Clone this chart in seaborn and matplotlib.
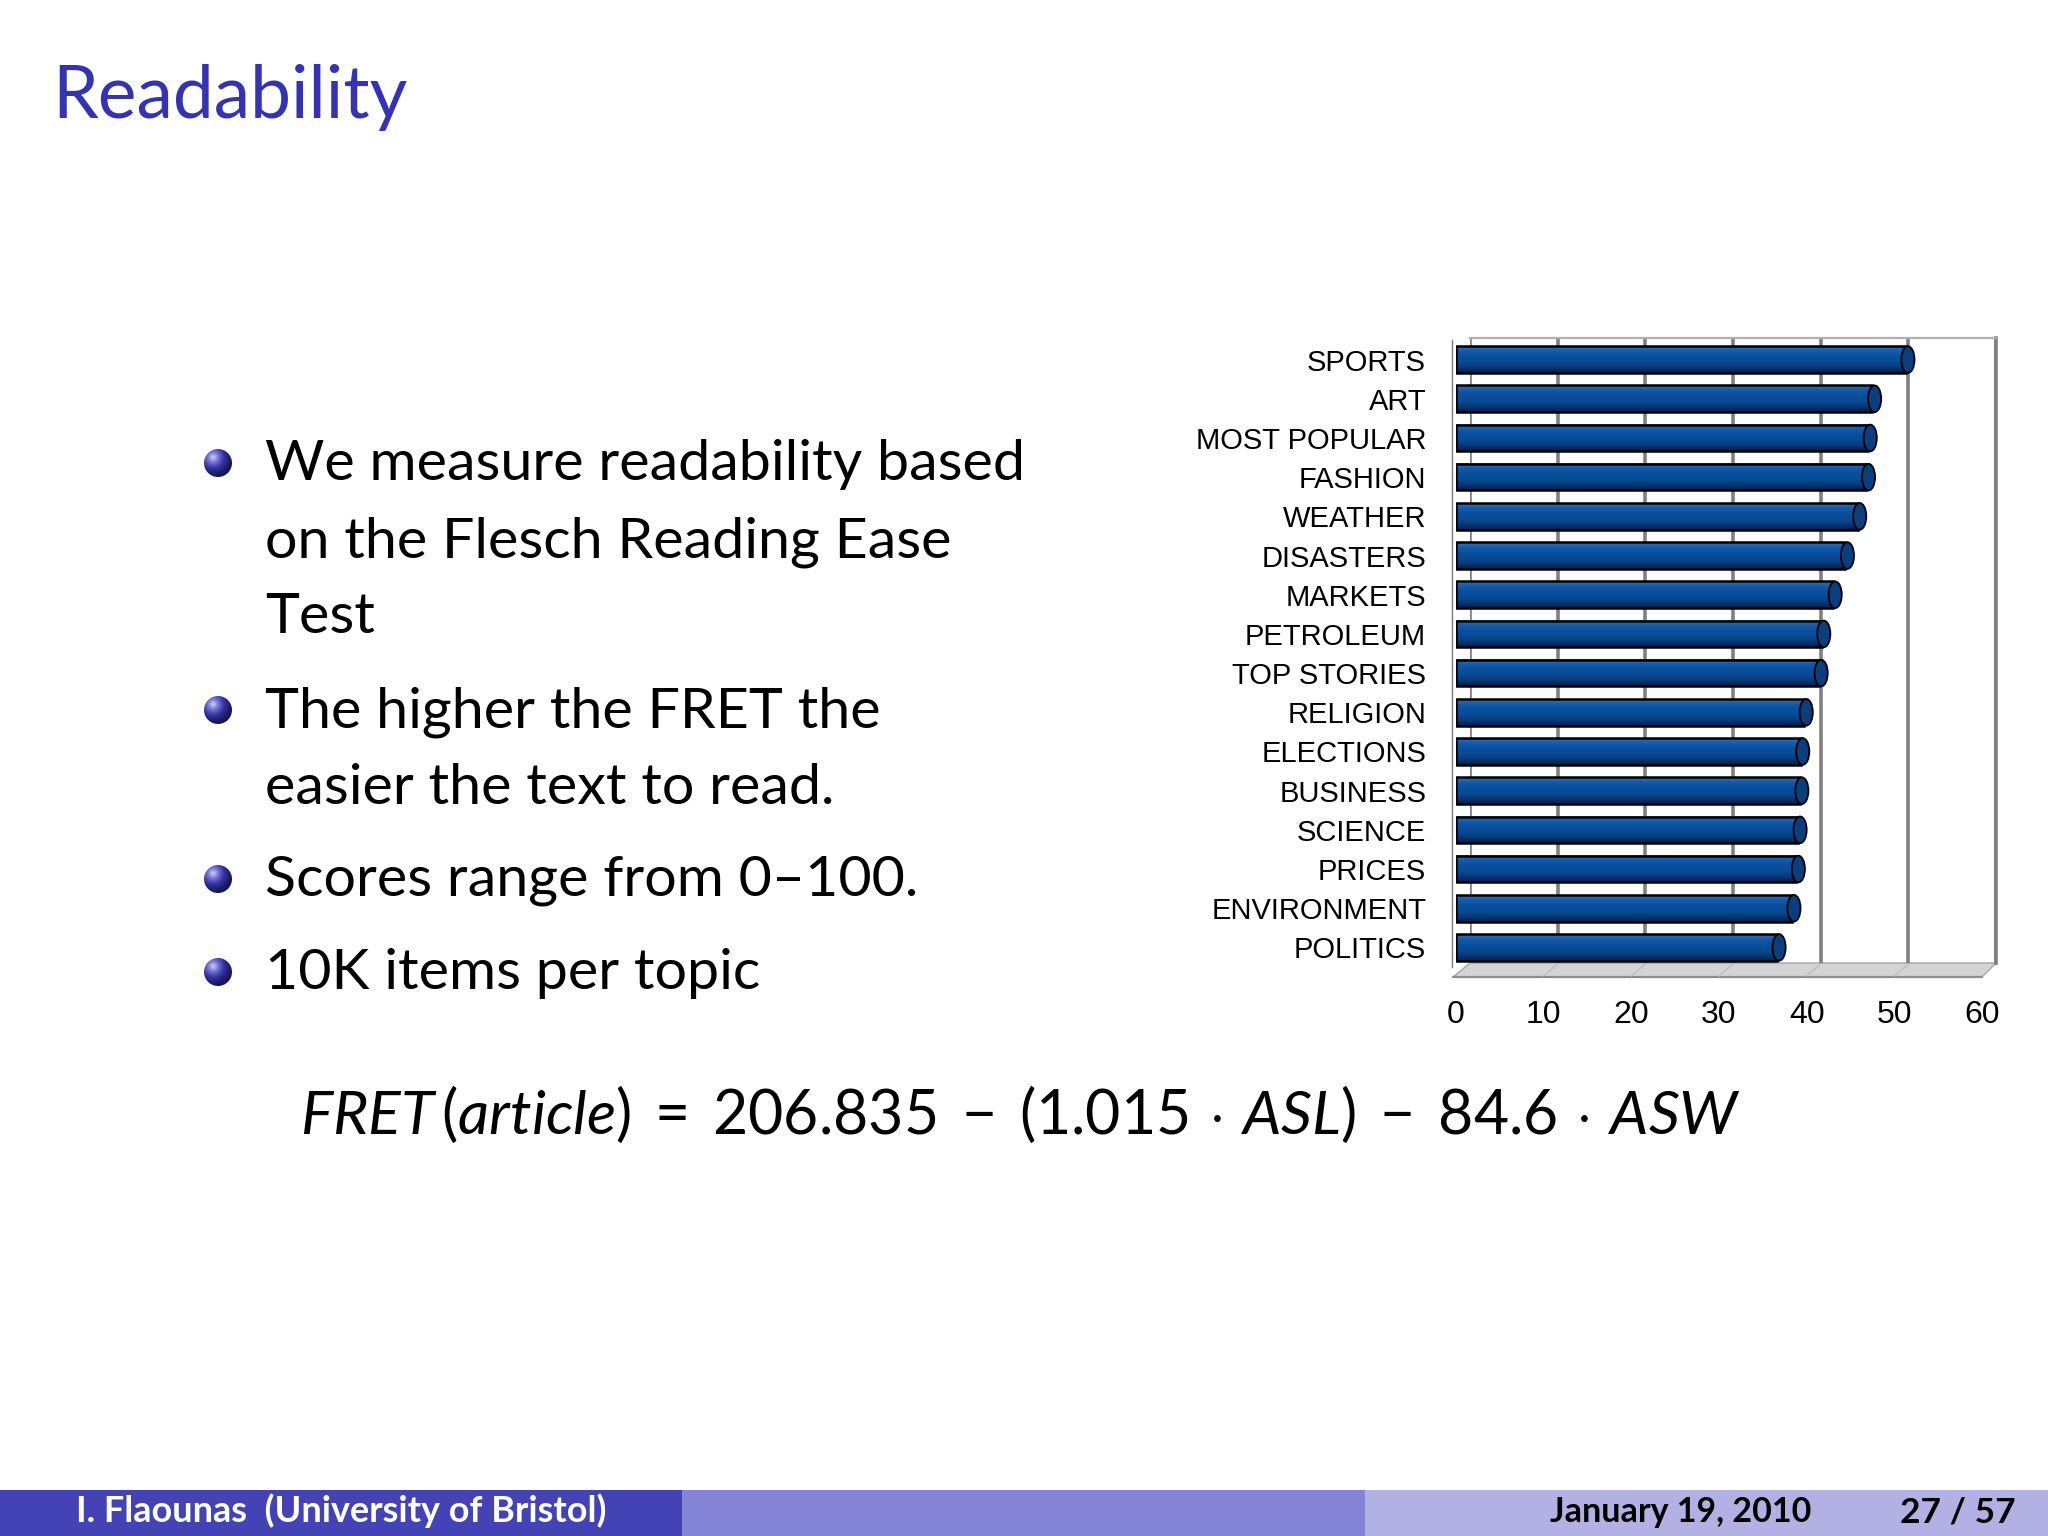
import numpy as np
import pandas as pd
import matplotlib
matplotlib.use("Agg")
import matplotlib.pyplot as plt
import seaborn as sns
from matplotlib.patches import Ellipse, Circle, Polygon, Rectangle
from matplotlib.colors import LinearSegmentedColormap

# ---------------- data ----------------
categories = ["SPORTS", "ART", "MOST POPULAR", "FASHION", "WEATHER", "DISASTERS",
              "MARKETS", "PETROLEUM", "TOP STORIES", "RELIGION", "ELECTIONS",
              "BUSINESS", "SCIENCE", "PRICES", "ENVIRONMENT", "POLITICS"]
scores = [51.3, 47.5, 47.0, 46.8, 45.8, 44.4, 43.0, 41.7, 41.4, 39.7, 39.3,
          39.2, 39.0, 38.8, 38.3, 36.6]
x_ticks = [0, 10, 20, 30, 40, 50, 60]
x_max = 60

title_text = "Readability"
bullet_items = [["We measure readability based", "on the Flesch Reading Ease", "Test"],
                ["The higher the FRET the", "easier the text to read."],
                ["Scores range from 0\u2013100."],
                ["10K items per topic"]]
formula_text = (r"$\mathit{FRET}\,(\mathit{article})\;=\;206.835\;-\;(1.015\,\cdot\,\mathit{ASL})"
                r"\;-\;84.6\,\cdot\,\mathit{ASW}$")
footer_author = "I. Flaounas  (University of Bristol)"
footer_date = "January 19, 2010"
footer_page = "27 / 57"

# ---------------- setup ----------------
W, H = 2048, 1536
SLIDE_FONT = ['Lato', 'DejaVu Sans']
sns.set_theme(style="white")
plt.rcParams['font.family'] = ['Liberation Sans', 'DejaVu Sans']
plt.rcParams['xtick.labelsize'] = 23
plt.rcParams['ytick.labelsize'] = 21
plt.rcParams['xtick.color'] = 'black'
plt.rcParams['ytick.color'] = 'black'
plt.rcParams['mathtext.fontset'] = 'custom'
plt.rcParams['mathtext.rm'] = 'Lato'
plt.rcParams['mathtext.it'] = 'Lato:italic'
plt.rcParams['mathtext.bf'] = 'Lato:bold'

fig = plt.figure(figsize=(W / 100, H / 100), dpi=100)
fig.patch.set_facecolor('white')


def rect(x0, y0, x1, y1):
    return [x0 / W, 1 - y1 / H, (x1 - x0) / W, (y1 - y0) / H]


deco = fig.add_axes([0, 0, 1, 1], zorder=0)
deco.set_xlim(0, W)
deco.set_ylim(H, 0)
deco.axis('off')

# back wall of the 3D chart
wall = fig.add_axes(rect(1470, 338, 1996, 963), zorder=1)
wall.set_xlim(0, x_max)
wall.set_ylim(0, 1)
wall.set_xticks(x_ticks)
wall.set_yticks([])
wall.tick_params(axis='x', length=0, labelbottom=False)
wall.grid(axis='x', color='#808080', linewidth=2.6)
wall.set_facecolor('none')
for s in ['left', 'bottom']:
    wall.spines[s].set_visible(False)
wall.spines['top'].set_color('#B0B0B0')
wall.spines['top'].set_linewidth(1.6)
wall.spines['right'].set_color('#808080')
wall.spines['right'].set_linewidth(2.6)

# front axes with bars
ax = fig.add_axes(rect(1456, 340, 1982, 967), zorder=2)
df = pd.DataFrame({'topic': categories, 'score': scores})
sns.barplot(data=df, x='score', y='topic', orient='h', color='#0A4F9C',
            saturation=1, width=0.68, edgecolor='black', linewidth=1.8, ax=ax)
ax.set_facecolor('none')
ax.set_xlim(0, x_max)
ax.set_xticks(x_ticks)
ax.set_xlabel('')
ax.set_ylabel('')
ax.tick_params(axis='x', length=0, pad=24, labelsize=23, labelcolor='black')
ax.tick_params(axis='y', length=0, pad=18.5, labelsize=21, labelcolor='black')
for s in ['top', 'right', 'bottom']:
    ax.spines[s].set_visible(False)
ax.spines['left'].set_color('#777777')
ax.spines['left'].set_linewidth(1.0)
ax.spines['left'].set_position(('outward', 3))

cmap_bar = LinearSegmentedColormap.from_list(
    'bar', ['#3572BC', '#1259A8', '#0A4F9C', '#094A93', '#07397A', '#031E46'])
grad = np.linspace(0, 1, 64).reshape(-1, 1)
ylim = ax.get_ylim()
for p in list(ax.patches):
    x0, y0, w, h = p.get_x(), p.get_y(), p.get_width(), p.get_height()
    ax.imshow(grad, cmap=cmap_bar, extent=(x0, x0 + w, y0 + h, y0), origin='upper',
              aspect='auto', zorder=2, clip_path=p, interpolation='bilinear')
    p.set_facecolor('none')
    p.set_zorder(3)
    ax.add_patch(Ellipse((x0 + w + 0.25, y0 + h / 2), width=1.5, height=h,
                         facecolor='#0B3E7C', edgecolor='black', linewidth=1.3, zorder=4))
ax.set_xlim(0, x_max)
ax.set_ylim(ylim)

# floor
deco.add_patch(Polygon([(1453, 977), (1470, 963), (1996, 963), (1982, 977)],
                       closed=True, facecolor='#D4D4D4', edgecolor='#A5A5A5', linewidth=1.0))
deco.plot([1453, 1982], [977, 977], color='#8C8C8C', linewidth=1.6)
fig.canvas.draw()
for t in x_ticks[1:-1]:
    fx = ax.transData.transform((t, 0))[0]
    bx = wall.transData.transform((t, 0))[0]
    deco.plot([fx, bx], [976, 964], color='#BEBEBE', linewidth=1.0)

# ---------------- slide text ----------------
title = deco.text(52, 118, title_text, color='#3333B3', fontsize=56, va='baseline',
                  ha='left', family=SLIDE_FONT)

baselines = [[480, 557, 633], [727, 804], [896], [989]]
yy, xx = np.mgrid[-1:1:80j, -1:1:80j]
dist = np.sqrt((xx + 0.35) ** 2 + (yy + 0.42) ** 2)
cmap_ball = LinearSegmentedColormap.from_list(
    'ball', ['#D0D0F8', '#7070D0', '#3434A0', '#1C1C6A', '#121248'])
text_objs = []
for lines, bls in zip(bullet_items, baselines):
    cx, cy, r = 218, bls[0] - 17, 14
    circ = Circle((cx, cy), r, facecolor='none', edgecolor='none')
    deco.add_patch(circ)
    deco.imshow(dist, cmap=cmap_ball, vmin=0, vmax=1.6,
                extent=(cx - r, cx + r, cy + r, cy - r), origin='upper', aspect='auto',
                clip_path=circ, interpolation='bilinear', zorder=3)
    for line, bl in zip(lines, bls):
        text_objs.append(deco.text(265, bl, line, fontsize=45, color='black',
                                   va='baseline', ha='left', family=SLIDE_FONT))

formula = deco.text(300, 1134, formula_text, fontsize=40, color='black',
                    va='baseline', ha='left', family=SLIDE_FONT)

# footer
fy0 = 1490
deco.add_patch(Rectangle((0, fy0), 682, H - fy0, facecolor='#4343B5', edgecolor='none'))
deco.add_patch(Rectangle((682, fy0), 683, H - fy0, facecolor='#8484D6', edgecolor='none'))
deco.add_patch(Rectangle((1365, fy0), 683, H - fy0, facecolor='#B1B1E3', edgecolor='none'))
f_author = deco.text(76, 1522, footer_author, color='white', fontsize=19,
                     fontweight='bold', va='baseline', ha='left', family=SLIDE_FONT)
f_date = deco.text(1550, 1522, footer_date, color='black', fontsize=19,
                   fontweight='bold', va='baseline', ha='left', family=SLIDE_FONT)
f_page = deco.text(1900, 1522, footer_page, color='black', fontsize=19,
                   fontweight='bold', va='baseline', ha='left', family=SLIDE_FONT)

deco.set_xlim(0, W)
deco.set_ylim(H, 0)

# fit text widths to the reference layout
fig.canvas.draw()
renderer = fig.canvas.get_renderer()


def fit(t, target_w):
    bb = t.get_window_extent(renderer)
    s = t.get_fontsize() * target_w / bb.width
    t.set_fontsize(s)
    return s


fit(title, 355)
s = fit(text_objs[0], 760)
for t in text_objs:
    t.set_fontsize(s)
fit(formula, 1440)
fit(f_author, 529)
fit(f_date, 261)
fit(f_page, 115)

fig.savefig("out.png", dpi=100, facecolor='white')
